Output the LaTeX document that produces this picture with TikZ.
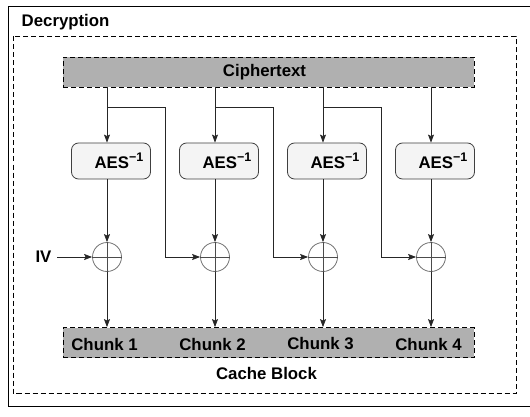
\documentclass[tikz,border=0pt]{standalone}
\usepackage{fontspec}
\setmainfont{Liberation Sans}
\usetikzlibrary{arrows.meta,calc}
\begin{document}
\begin{tikzpicture}[x=1pt,y=-1pt,
  every node/.style={font=\fontsize{16.8}{19}\selectfont\bfseries},
  lbl/.style={inner sep=0pt},
  band/.style={draw=black, fill=bandgray, dash pattern=on 5pt off 3pt, line width=0.8pt, minimum width=411pt, minimum height=30pt, inner sep=0pt},
  aesbox/.style={draw=black!75, fill=aesfill, rounded corners=7pt, line width=0.8pt, minimum width=79pt, minimum height=36pt, inner sep=0pt},
  xorc/.style={circle, draw=black!55, line width=0.8pt, minimum size=29pt, inner sep=0pt},
  cross/.style={draw=black!70, line width=0.8pt},
  conn/.style={draw=black!85, line width=0.8pt},
  arr/.style={conn, -{Stealth[length=8pt,width=6pt,inset=1.5pt]}},
  frame/.style={draw=black, line width=1pt},
  dframe/.style={draw=black, line width=0.8pt, dash pattern=on 5pt off 3pt}
]
\definecolor{bandgray}{HTML}{B0B0B0}
\definecolor{aesfill}{HTML}{F4F4F4}
\useasboundingbox (0,0) rectangle (530,417);
\fill[white] (0,0) rectangle (530,417);
% outer frame (right side lies outside the picture)
\draw[frame] (545,7) -- (8,7) -- (8,406) -- (545,406);
\node[lbl, anchor=west] (dec) at (21.5,22.5) {Decryption};
\draw[dframe] (13,36.5) rectangle (516,393);
% bands
\node[band] (ct) at (268.5,72) {\hspace*{-8pt}Ciphertext};
\node[band] (ch) at (268.5,342.5) {};
\node[lbl] (cb) at (266.5,373) {Cache Block};
% columns
\foreach \i/\x in {1/107,2/215,3/323,4/431}{
  \coordinate (k\i) at (\x,0);
  \coordinate (j\i) at (\x,107);
  \coordinate (b\i) at (\x+58,107);
  \node[aesbox] (aes\i) at (\x+4,161) {\hspace*{16pt}AES\raisebox{6.5pt}{\fontsize{12.5}{13}\selectfont\bfseries −1}};
  \node[xorc] (x\i) at (\x,257) {};
  \draw[cross] (x\i.north) -- (x\i.south) (x\i.west) -- (x\i.east);
  \node[lbl] (c\i) at (\x-2.5,344) {Chunk \i};
  \draw[arr] (ct.south -| k\i) -- (aes\i.north -| k\i);
  \draw[arr] (aes\i.south -| k\i) -- (x\i.north);
  \draw[arr] (x\i.south) -- (ch.north -| k\i);
}
\foreach \i/\n in {1/2,2/3,3/4}{
  \draw[arr] (j\i) -- (b\i) |- (x\n.west);
}
\node[lbl] (iv) at (43.5,257) {IV};
\draw[arr] ($(iv.east)+(5.5,0)$) -- (x1.west);
\end{tikzpicture}
\end{document}
